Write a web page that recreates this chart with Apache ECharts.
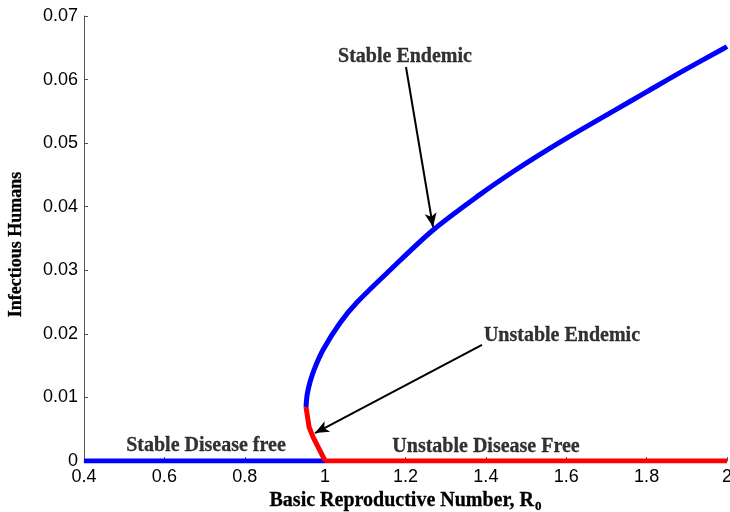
<!DOCTYPE html>
<html>
<head>
<meta charset="utf-8">
<script src="https://cdn.jsdelivr.net/npm/echarts@6/dist/echarts.min.js"></script>
<style>
  html, body { margin: 0; padding: 0; background: #fff; }
  #chart { width: 730px; height: 512px; }
</style>
</head>
<body>
<div id="chart"></div>
<script>
// Equilibrium branches of the model: infectious humans versus R0
const stableEndemic = [
  [0.9524, 0.0085], [0.9555, 0.0105], [0.9628, 0.0125], [0.9734, 0.0145],
  [0.995, 0.0175], [1.037, 0.0217], [1.080, 0.0250], [1.161, 0.0300],
  [1.268, 0.0363], [1.385, 0.0419], [1.4675, 0.0455], [1.552, 0.0489],
  [1.634, 0.0520], [1.716, 0.0550], [1.801, 0.0581], [1.883, 0.0611],
  [1.995, 0.0650], [2.0, 0.0652]
];
const unstableEndemic = [
  [0.9524, 0.0085], [0.960, 0.00535], [0.970, 0.00377], [0.995, 0.00063], [1.0, 0]
];
const stableDiseaseFree = [[0.4, 0], [1.0, 0]];
const unstableDiseaseFree = [[1.0, 0], [2.0, 0]];

// Annotation texts (placed at data coordinates)
const labelTexts = [
  { name: 'Stable Endemic', value: [1.1988, 0.06360] },
  { name: 'Unstable Endemic', value: [1.5894, 0.01970] },
  { name: 'Stable Disease free', value: [0.7036, 0.00236] },
  { name: 'Unstable Disease Free', value: [1.4003, 0.0022] }
];
// Arrows: [start, end] in data coordinates
const arrows = [
  [[1.2012, 0.06198], [1.2684, 0.03681]],
  [[1.3903, 0.01825], [0.9748, 0.0044]]
];

const xMin = 0.4, xMax = 2, xStep = 0.2;
const yMin = 0, yMax = 0.07, yStep = 0.01;

const serif = '"Liberation Serif", "Times New Roman", serif';
const sans = '"Liberation Sans", Arial, sans-serif';
const fmt = v => String(+v.toFixed(2));

const chart = echarts.init(document.getElementById('chart'));
chart.setOption({
  animation: false,
  grid: { left: 84, right: 3, top: 16, bottom: 51, outerBoundsMode: 'none', containLabel: false },
  xAxis: {
    type: 'value', min: xMin, max: xMax, interval: xStep,
    name: 'Basic Reproductive Number, R{sub|0}',
    nameLocation: 'middle', nameGap: 26,
    nameTextStyle: {
      fontFamily: serif, fontWeight: 'bold', fontSize: 20, color: '#000',
      textBorderColor: '#000', textBorderWidth: 0.3,
      rich: { sub: { fontFamily: serif, fontWeight: 'bold', fontSize: 13, color: '#000', textBorderColor: '#000', textBorderWidth: 0.3, padding: [12, 0, 0, 1] } }
    },
    axisLine: { show: true, lineStyle: { color: '#555', width: 1 } },
    axisTick: { show: true, inside: true, length: 4, lineStyle: { color: '#555' } },
    axisLabel: { formatter: fmt, fontFamily: sans, fontSize: 18, color: '#000', margin: 7 },
    splitLine: { show: false }
  },
  yAxis: {
    type: 'value', min: yMin, max: yMax, interval: yStep,
    name: 'Infectious Humans',
    nameLocation: 'middle', nameGap: 59, nameRotate: 90,
    nameTextStyle: {
      fontFamily: serif, fontWeight: 'bold', fontSize: 18, color: '#000',
      textBorderColor: '#000', textBorderWidth: 0.3, padding: [0, 12, 0, 0]
    },
    axisLine: { show: true, lineStyle: { color: '#555', width: 1 } },
    axisTick: { show: true, inside: true, length: 4, lineStyle: { color: '#555' } },
    axisLabel: { formatter: fmt, fontFamily: sans, fontSize: 18, color: '#000', margin: 6 },
    splitLine: { show: false }
  },
  series: [
    {
      name: 'Stable disease free', type: 'line', data: stableDiseaseFree,
      showSymbol: false, lineStyle: { color: '#0000ff', width: 5 }, z: 3
    },
    {
      name: 'Unstable disease free', type: 'line', data: unstableDiseaseFree,
      showSymbol: false, lineStyle: { color: '#ff0000', width: 5 }, z: 3
    },
    {
      name: 'Unstable endemic', type: 'line', data: unstableEndemic,
      showSymbol: false, lineStyle: { color: '#ff0000', width: 5 }, z: 3
    },
    {
      name: 'Stable endemic', type: 'line', data: stableEndemic, smooth: 0.3,
      showSymbol: false, lineStyle: { color: '#0000ff', width: 5 }, z: 4
    },
    {
      name: 'annotations', type: 'scatter', data: labelTexts,
      symbolSize: 0, z: 6,
      label: {
        show: true, position: 'inside', formatter: p => p.name,
        fontFamily: serif, fontWeight: 'bold', fontSize: 20, color: '#000',
        textBorderColor: '#000', textBorderWidth: 0.3
      },
      markLine: {
        silent: true, animation: false,
        symbol: ['none', 'arrow'], symbolSize: [9, 14],
        label: { show: false },
        lineStyle: { color: '#000', width: 2, type: 'solid' },
        data: arrows.map(a => [{ coord: a[0] }, { coord: a[1] }])
      }
    }
  ]
});
</script>
</body>
</html>
